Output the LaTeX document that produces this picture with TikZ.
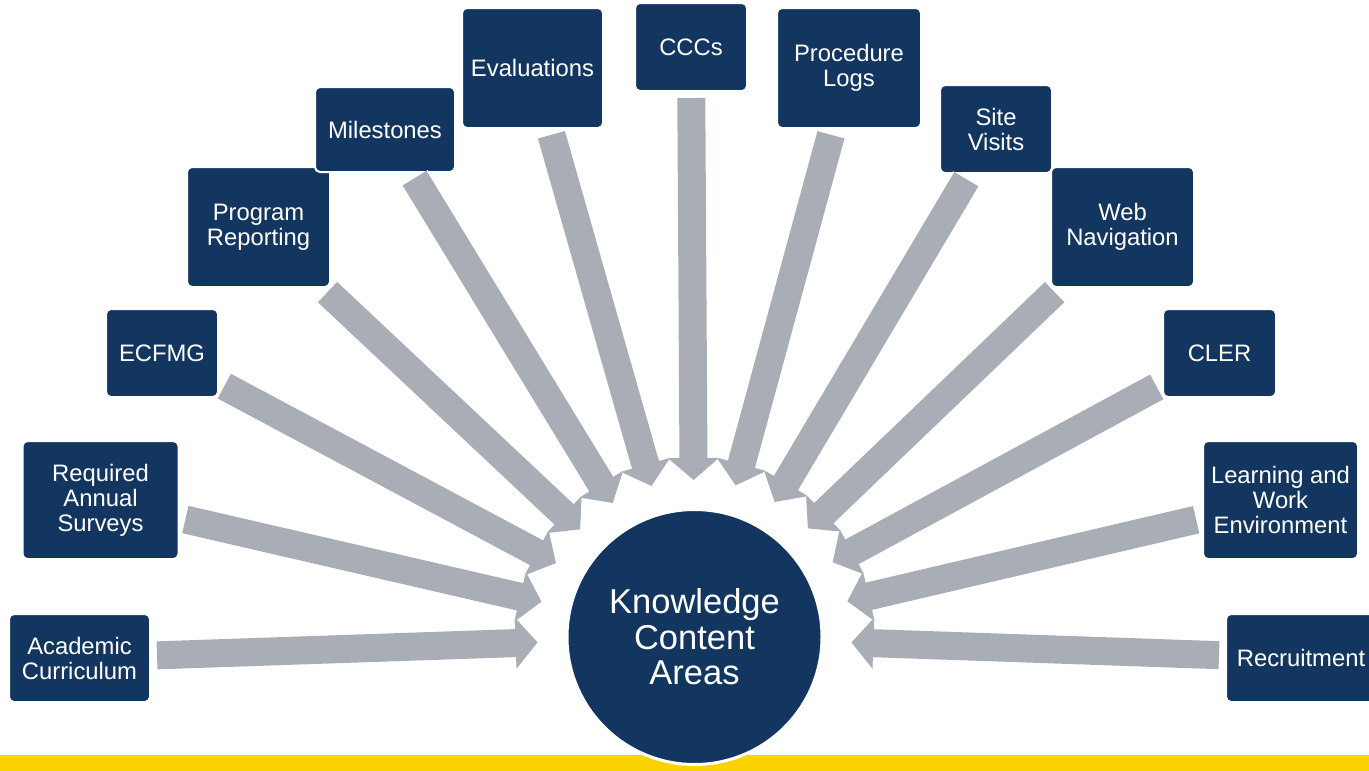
\documentclass[tikz,border=0pt]{standalone}
\usepackage{fontspec}
\setmainfont{Liberation Sans}
\usepackage{tikz}
\usetikzlibrary{arrows.meta,calc,positioning}

\definecolor{navy}{RGB}{19,54,96}
\definecolor{ashgray}{RGB}{169,173,182}
\definecolor{gold}{RGB}{251,211,0}

\tikzset{
	topic/.style={rectangle, rounded corners=5pt, fill=navy, draw=white, line width=2pt, text=white, align=center, font=\fontsize{23.8}{25}\selectfont},
	hub/.style={circle, fill=navy, draw=white, line width=3pt, text=white, align=center, minimum size=255pt, font=\fontsize{34.5}{35.5}\selectfont},
	feed/.style={draw=ashgray, line width=28pt, -{Triangle[length=22pt,width=50pt]}, shorten <=6pt,
		preaction={draw=white, line width=31pt, -{Triangle[length=24pt,width=55pt]}}}
}

\begin{document}
\begin{tikzpicture}[x=1pt,y=-1pt]
	\useasboundingbox (0,0) rectangle (1369,771);
	\fill[gold] (0,755) rectangle (1369,771);
	\node[hub] (kca) at (694.5,637) {Knowledge\\Content\\Areas};
	% left side
	\node[topic, minimum width=141pt, minimum height=88pt] (acad) at (79.5,658) {Academic\\Curriculum};
	\node[topic, minimum width=156pt, minimum height=118pt] (surv) at (100.5,500) {Required\\Annual\\Surveys};
	\node[topic, minimum width=112pt, minimum height=88pt] (ecfmg) at (162,353) {ECFMG};
	\node[topic, minimum width=143pt, minimum height=120pt] (prog) at (258.5,227) {Program\\Reporting};
	\node[topic, minimum width=140pt, minimum height=85pt] (mile) at (385,129.5) {Milestones};
	\node[topic, minimum width=141pt, minimum height=120pt] (eval) at (532.5,68) {Evaluations};
	\node[topic, minimum width=112pt, minimum height=88pt] (ccc) at (691,47) {CCCs};
	% right side
	\node[topic, minimum width=144pt, minimum height=120pt] (proc) at (849,68) {Procedure\\Logs};
	\node[topic, minimum width=112pt, minimum height=88pt] (site) at (996,129) {Site\\Visits};
	\node[topic, minimum width=143pt, minimum height=120pt] (web) at (1122.5,227) {Web\\Navigation};
	\node[topic, minimum width=113pt, minimum height=88pt] (cler) at (1219.5,353) {CLER};
	\node[topic, minimum width=155pt, minimum height=118pt] (lwe) at (1280.5,500) {Learning and\\Work\\Environment};
	\node[topic, minimum width=150pt, minimum height=88pt] (recr) at (1301,658) {Recruitment};
	% arrows into the hub
	\foreach \t in {acad,surv,ecfmg,prog,mile,eval,recr,lwe,cler,web,site,proc,ccc}
		\draw[feed] (\t) -- ($(kca.center)!157pt!(\t.center)$);
\end{tikzpicture}
\end{document}
